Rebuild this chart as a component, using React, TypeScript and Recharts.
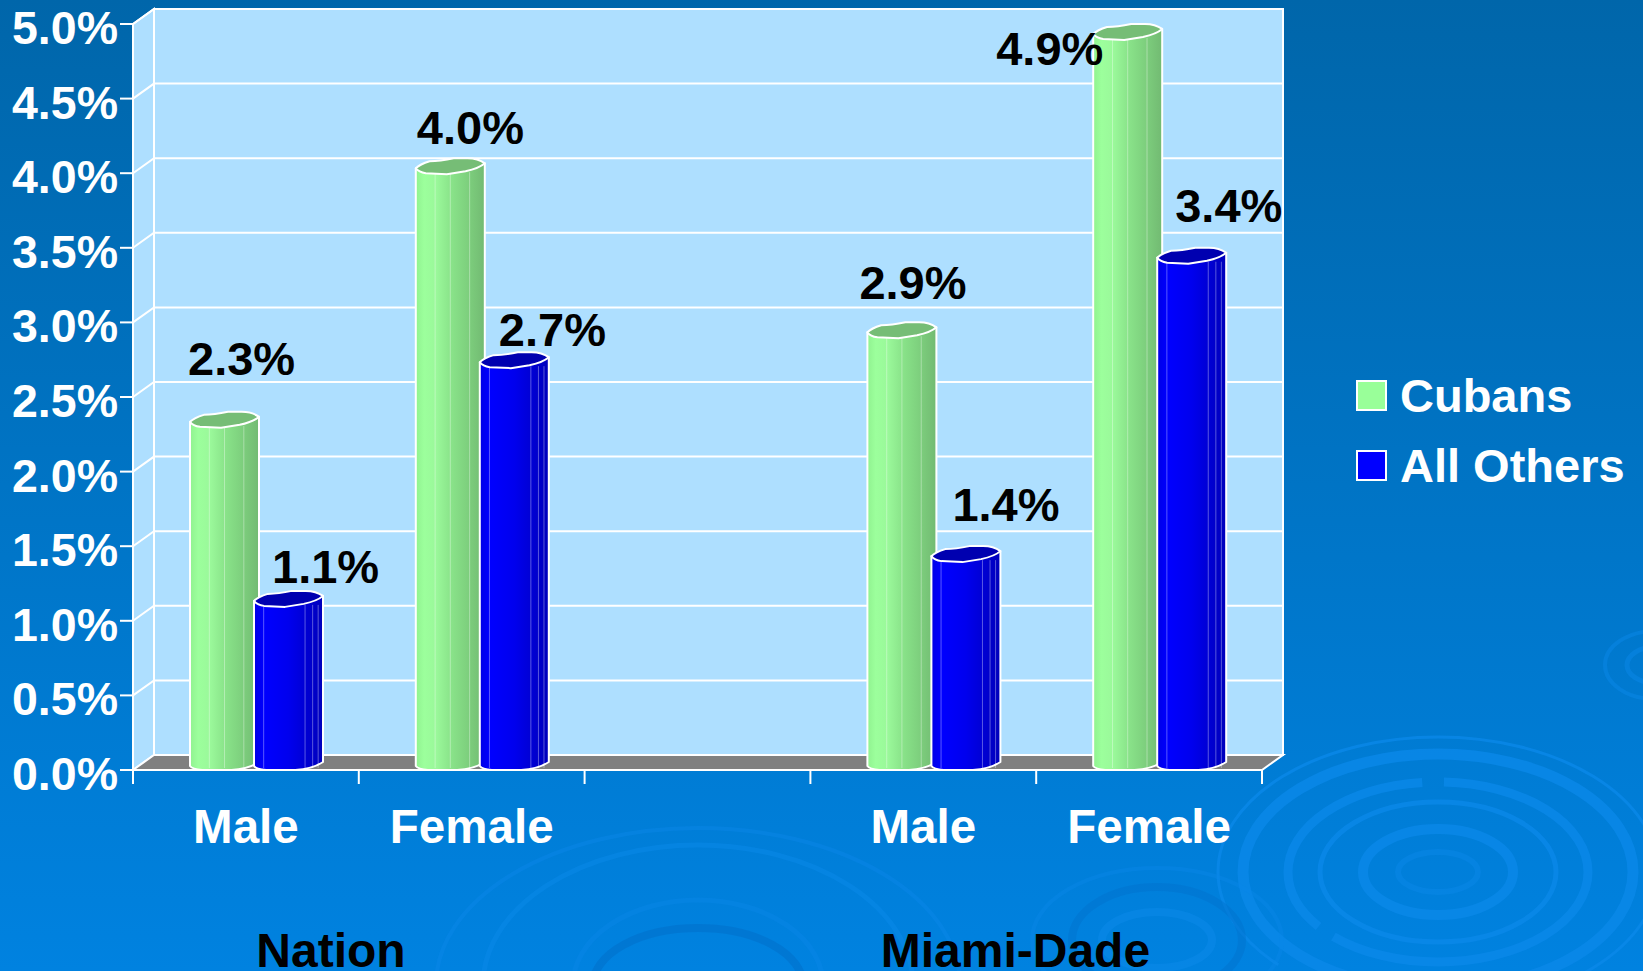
import React from "react";
import {
  BarChart,
  Bar,
  XAxis,
  YAxis,
  ReferenceArea,
  LabelList,
  Legend,
} from "recharts";

// one blank slot keeps the two groups apart
const categories = ["Male", "Female", "", "Male", "Female"];
const groups = ["Nation", null, null, "Miami-Dade", null];
const cubans = [2.3, 4.0, null, 2.9, 4.9];
const allOthers = [1.1, 2.7, null, 1.4, 3.4];
const yTicks = [0, 0.5, 1, 1.5, 2, 2.5, 3, 3.5, 4, 4.5, 5];
const yMax = 5;

const chartData = categories.map((label, i) => ({
  label,
  cubans: cubans[i],
  allOthers: allOthers[i],
}));

const WIDTH = 1643;
const HEIGHT = 971;
const FONT = "'Liberation Sans', Arial, sans-serif";
const DEPTH_X = 21;
const DEPTH_Y = 15;
const SLOT = 225.8;

// label nudges from the bar's left edge / value height, picked by eye
// (LabelList skips the empty slot, so these only cover the four real bars)
const cubanNudge = [
  [-3, -52],
  [0, -29],
  [-9, -38],
  [-98, 26],
];
const otherNudge = [
  [17, -23],
  [18, -21],
  [20, -40],
  [17, -41],
];

// reference lines would paint over the bars, so the grid is part of the wall
const Wall = ({ x, y, width, height }: any) => {
  const bx = x + DEPTH_X;
  const by = y - DEPTH_Y;
  const bottom = y + height;
  return (
    <g>
      <rect x={bx} y={by} width={width} height={height} fill="#aedfff" stroke="#fff" strokeWidth={2} />
      <polygon
        points={`${x},${y} ${bx},${by} ${bx},${by + height} ${x},${bottom}`}
        fill="#aedfff"
        stroke="#fff"
        strokeWidth={2}
      />
      <polygon
        points={`${x},${bottom} ${bx},${bottom - DEPTH_Y} ${bx + width},${bottom - DEPTH_Y} ${x + width},${bottom}`}
        fill="#808080"
        stroke="#fff"
        strokeWidth={2}
      />
      {yTicks.slice(1).map((t) => {
        const ty = bottom - (height * t) / yMax;
        return (
          <polyline
            key={t}
            points={`${x},${ty} ${bx},${ty - DEPTH_Y} ${bx + width},${ty - DEPTH_Y}`}
            fill="none"
            stroke="#fff"
            strokeWidth={2}
          />
        );
      })}
    </g>
  );
};

const Cylinder = ({ x, y, width, height, gradient, cap, seams }: any) => {
  if (!height) return null;
  const left = x + 8;
  const w = width + 5;
  const bottom = y + height;
  const rim = y + 1;
  const body = `M${left},${rim - 6} L${left},${bottom - 4} Q${left + 2},${bottom - 1} ${left + 12},${bottom}
    L${left + w * 0.6},${bottom} Q${left + w * 0.85},${bottom - 1} ${left + w},${bottom - 8} L${left + w},${rim - 11} Z`;
  const top = `M${left},${rim - 6} Q${left + 3},${rim - 2} ${left + 10},${rim - 1} L${left + w * 0.45},${rim}
    L${left + w * 0.72},${rim - 3} Q${left + w * 0.92},${rim - 6} ${left + w},${rim - 11}
    Q${left + w * 0.9},${rim - 16} ${left + w * 0.75},${rim - 16} L${left + w * 0.55},${rim - 16}
    Q${left + w * 0.35},${rim - 13} ${left + w * 0.2},${rim - 13} Q${left + 4},${rim - 10} ${left},${rim - 6} Z`;
  return (
    <g>
      <path d={body} fill={`url(#${gradient})`} stroke="#fff" strokeWidth={2} strokeLinejoin="round" />
      {seams.map((s: number) => (
        <line
          key={s}
          x1={left + w * s}
          x2={left + w * s}
          y1={rim - 2}
          y2={bottom - 2}
          stroke="#fff"
          strokeOpacity={0.35}
          strokeWidth={1}
        />
      ))}
      <path d={top} fill={cap} stroke="#fff" strokeWidth={2} strokeLinejoin="round" />
    </g>
  );
};

const YTick = ({ x, y, payload }: any) => (
  <text
    x={x}
    y={y + 20}
    textAnchor="end"
    fontFamily={FONT}
    fontWeight="bold"
    fontSize={46.5}
    fill="#fff"
  >
    {payload.value.toFixed(1)}%
  </text>
);

const XTick = ({ x, payload, index }: any) => {
  const axisY = 770;
  const start = x - SLOT / 2;
  const group = groups[index];
  const textProps = {
    textAnchor: "middle" as const,
    fontFamily: FONT,
    fontWeight: "bold",
  };
  return (
    <g>
      <line x1={start} x2={start} y1={axisY} y2={axisY + 14} stroke="#fff" strokeWidth={2} />
      {index === categories.length - 1 && (
        <line x1={start + SLOT} x2={start + SLOT} y1={axisY} y2={axisY + 14} stroke="#fff" strokeWidth={2} />
      )}
      <text x={x} y={axisY + 73} fontSize={47.5} fill="#fff" {...textProps}>
        {payload.value}
      </text>
      {group && (
        <text x={start + (index === 0 ? 198 : 205)} y={axisY + 197} fontSize={48} fill="#000" {...textProps}>
          {group}
        </text>
      )}
    </g>
  );
};

const valueLabel = (nudges: any[]) => ({ x, y, value, index }: any) => {
  const nudge = nudges[index];
  if (value == null || !nudge) return null;
  return (
    <text
      x={x + 9 + nudge[0]}
      y={y + nudge[1]}
      fontFamily={FONT}
      fontWeight="bold"
      fontSize={47}
      fill="#000"
    >
      {value.toFixed(1)}%
    </text>
  );
};

const LegendBox = ({ payload }: any) => (
  <div style={{ fontFamily: FONT, fontWeight: "bold", fontSize: 47, color: "#fff" }}>
    {(payload || []).map((item: any) => (
      <div
        key={item.value}
        style={{ display: "flex", alignItems: "center", height: 70, whiteSpace: "nowrap" }}
      >
        <span
          style={{
            display: "inline-block",
            boxSizing: "border-box",
            width: 31,
            height: 31,
            marginRight: 13,
            background: item.color,
            border: "2px solid #fff",
          }}
        />
        {item.value}
      </div>
    ))}
  </div>
);

// water ripples of the slide background
const Ripples = () => (
  <svg width={WIDTH} height={HEIGHT} style={{ position: "absolute", left: 0, top: 0 }}>
    <defs>
      <linearGradient id="slideBg" x1="0" y1="0" x2="0" y2="1">
        <stop offset="0" stopColor="#0066aa" />
        <stop offset="1" stopColor="#0082e0" />
      </linearGradient>
    </defs>
    <rect width={WIDTH} height={HEIGHT} fill="url(#slideBg)" />
    <g fill="none" stroke="#0a88e8">
      <g strokeOpacity={0.8}>
        <ellipse cx={1438} cy={872} rx={220} ry={135} strokeWidth={3} strokeDasharray="420 30 700 0" />
        <ellipse cx={1438} cy={872} rx={195} ry={118} strokeWidth={11} />
        <ellipse cx={1438} cy={872} rx={150} ry={90} strokeWidth={9} strokeDasharray="300 18 240 22" />
        <ellipse cx={1438} cy={872} rx={118} ry={70} strokeWidth={5} />
        <ellipse cx={1438} cy={872} rx={75} ry={43} strokeWidth={10} />
        <ellipse cx={1438} cy={872} rx={40} ry={20} strokeWidth={6} strokeOpacity={0.5} />
      </g>
      <ellipse cx={698} cy={985} rx={262} ry={157} strokeWidth={4} strokeOpacity={0.45} strokeDasharray="560 40 900 0" />
      <ellipse cx={698} cy={985} rx={215} ry={140} strokeWidth={5} strokeOpacity={0.55} strokeDasharray="400 30 900 0" />
      <ellipse cx={698} cy={985} rx={125} ry={85} strokeWidth={5} strokeOpacity={0.4} />
      <ellipse cx={698} cy={985} rx={105} ry={57} strokeWidth={8} stroke="#0072cc" strokeOpacity={0.6} />
      <ellipse cx={1157} cy={940} rx={125} ry={72} strokeWidth={4} strokeOpacity={0.4} />
      <ellipse cx={1157} cy={940} rx={85} ry={53} strokeWidth={8} stroke="#0072cc" strokeOpacity={0.45} />
      <ellipse cx={1157} cy={940} rx={55} ry={28} strokeWidth={8} strokeOpacity={0.6} />
      <ellipse cx={1655} cy={665} rx={50} ry={34} strokeWidth={4} strokeOpacity={0.5} />
      <ellipse cx={1655} cy={665} rx={28} ry={18} strokeWidth={5} strokeOpacity={0.5} />
    </g>
  </svg>
);

const App = () => (
  <div style={{ position: "absolute", left: 0, top: 0, width: WIDTH, height: HEIGHT, overflow: "hidden" }}>
    <Ripples />
    <div style={{ position: "absolute", left: 0, top: 0 }}>
      <BarChart
        width={WIDTH}
        height={HEIGHT}
        data={chartData}
        barSize={64}
        barGap={0}
        margin={{ top: 24, right: 381, left: 0, bottom: 0 }}
      >
        <defs>
          <linearGradient id="greenBody" x1="0" y1="0" x2="1" y2="0">
            <stop offset="0" stopColor="#90f290" />
            <stop offset="0.12" stopColor="#9cff9c" />
            <stop offset="0.3" stopColor="#9af89a" />
            <stop offset="0.5" stopColor="#8ae48a" />
            <stop offset="0.7" stopColor="#80d480" />
            <stop offset="1" stopColor="#72ba72" />
          </linearGradient>
          <linearGradient id="blueBody" x1="0" y1="0" x2="1" y2="0">
            <stop offset="0" stopColor="#0000e6" />
            <stop offset="0.15" stopColor="#0000ff" />
            <stop offset="0.5" stopColor="#0000ee" />
            <stop offset="0.75" stopColor="#0000d4" />
            <stop offset="1" stopColor="#0000bb" />
          </linearGradient>
        </defs>
        <ReferenceArea y1={0} y2={yMax} shape={<Wall />} ifOverflow="visible" />
        <XAxis
          dataKey="label"
          height={201}
          interval={0}
          axisLine={{ stroke: "#fff", strokeWidth: 2 }}
          tickLine={false}
          tick={<XTick />}
        />
        <YAxis
          width={133}
          domain={[0, yMax]}
          ticks={yTicks}
          tickSize={13}
          axisLine={{ stroke: "#fff", strokeWidth: 2 }}
          tickLine={{ stroke: "#fff", strokeWidth: 2 }}
          tick={<YTick />}
        />
        <Legend
          layout="vertical"
          align="center"
          verticalAlign="middle"
          itemSorter={null}
          wrapperStyle={{ left: 1356, top: 360, width: 287, bottom: "auto", right: "auto" }}
          content={<LegendBox />}
        />
        <Bar
          dataKey="cubans"
          name="Cubans"
          fill="#99ff99"
          isAnimationActive={false}
          shape={(p: any) => <Cylinder {...p} gradient="greenBody" cap="#76bd76" seams={[0.28, 0.5, 0.78]} />}
        >
          <LabelList dataKey="cubans" content={valueLabel(cubanNudge)} />
        </Bar>
        <Bar
          dataKey="allOthers"
          name="All Others"
          fill="#0000ff"
          isAnimationActive={false}
          shape={(p: any) => <Cylinder {...p} gradient="blueBody" cap="#0000b0" seams={[0.14, 0.74, 0.85, 0.93]} />}
        >
          <LabelList dataKey="allOthers" content={valueLabel(otherNudge)} />
        </Bar>
      </BarChart>
    </div>
  </div>
);

export default App;
